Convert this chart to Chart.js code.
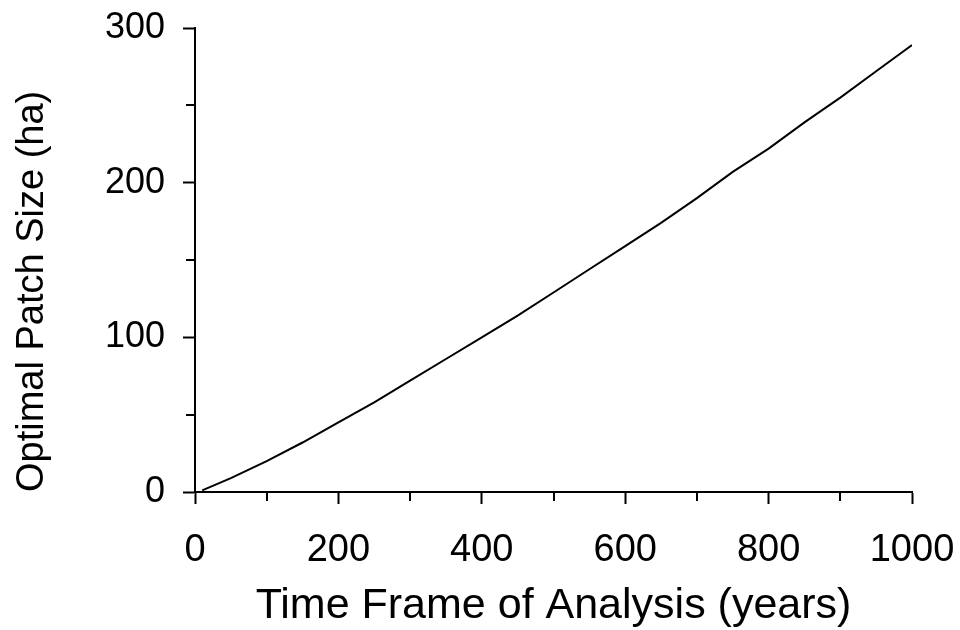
<!DOCTYPE html>
<html>
<head>
<meta charset="utf-8">
<script src="https://cdn.jsdelivr.net/npm/chart.js@4/dist/chart.umd.min.js"></script>
<style>
  html, body { margin: 0; padding: 0; background: #fff; }
  #wrap { width: 960px; height: 630px; }
</style>
</head>
<body>
<div id="wrap"><canvas id="patchChart" width="960" height="630"></canvas></div>
<script>
// Dados
const timeFrame = [10, 50, 100, 150, 200, 250, 300, 350, 400, 450, 500, 550, 600, 650, 700, 750, 800, 850, 900, 950, 1000];
const patchSize = [1, 9, 20, 32, 45, 58, 72, 86, 100, 114, 129, 144, 159, 174, 190, 207, 222, 239, 255, 272, 289];
const xTickLabels = [0, 200, 400, 600, 800, 1000];
const yTickLabels = [0, 100, 200, 300];

const FONT = "'Liberation Sans', Arial, sans-serif";

// ticks menores (mais curtos) desenhados à parte
const minorTicks = {
  id: "minorTicks",
  afterDraw(chart) {
    const ctx = chart.ctx;
    const x = chart.scales.x, y = chart.scales.y;
    ctx.save();
    ctx.strokeStyle = "#000";
    ctx.lineWidth = 2;
    ctx.beginPath();
    for (let v = 100; v < 1000; v += 200) {
      const px = Math.round(x.getPixelForValue(v));
      ctx.moveTo(px, y.bottom);
      ctx.lineTo(px, y.bottom + 9);
    }
    for (let v = 50; v < 300; v += 100) {
      const py = Math.round(y.getPixelForValue(v));
      ctx.moveTo(x.left, py);
      ctx.lineTo(x.left - 9, py);
    }
    ctx.stroke();
    ctx.restore();
  }
};

const ctx = document.getElementById("patchChart");
new Chart(ctx, {
  type: "line",
  data: {
    datasets: [{
      data: timeFrame.map((t, i) => ({ x: t, y: patchSize[i] })),
      borderColor: "#000",
      borderWidth: 2,
      pointRadius: 0,
      tension: 0,
      fill: false
    }]
  },
  options: {
    responsive: false,
    animation: false,
    layout: { padding: { top: 28, right: 48, left: 0, bottom: 0 } },
    plugins: { legend: { display: false }, tooltip: { enabled: false } },
    scales: {
      x: {
        type: "linear",
        min: 0,
        max: 1000,
        afterFit: (s) => { s.height = 138; s.paddingLeft = 0; s.paddingRight = 0; },
        afterBuildTicks: (s) => { s.ticks = xTickLabels.map(v => ({ value: v })); },
        border: { display: true, color: "#000", width: 2 },
        grid: { drawOnChartArea: false, drawTicks: true, tickLength: 12, tickColor: "#000", tickWidth: 2 },
        ticks: { color: "#000", font: { family: FONT, size: 38 }, padding: 24, maxRotation: 0,
                 callback: (v) => String(v) },
        title: { display: true, text: "Time Frame of Analysis (years)", color: "#000",
                 font: { family: FONT, size: 43, lineHeight: 1 }, padding: { top: 0, bottom: 2 } }
      },
      y: {
        type: "linear",
        min: 0,
        max: 300,
        afterFit: (s) => { s.width = 195; s.paddingTop = 0; s.paddingBottom = 0; },
        afterBuildTicks: (s) => { s.ticks = yTickLabels.map(v => ({ value: v })); },
        border: { display: true, color: "#000", width: 2 },
        grid: { drawOnChartArea: false, drawTicks: true, tickLength: 12, tickColor: "#000", tickWidth: 2 },
        ticks: { color: "#000", font: { family: FONT, size: 36 }, padding: 18,
                 callback: (v) => String(v) },
        title: { display: true, text: "Optimal Patch Size (ha)", color: "#000", align: "start",
                 font: { family: FONT, size: 38, lineHeight: 1.2 }, padding: { top: 10, bottom: 0 } }
      }
    }
  },
  plugins: [minorTicks]
});
</script>
</body>
</html>
